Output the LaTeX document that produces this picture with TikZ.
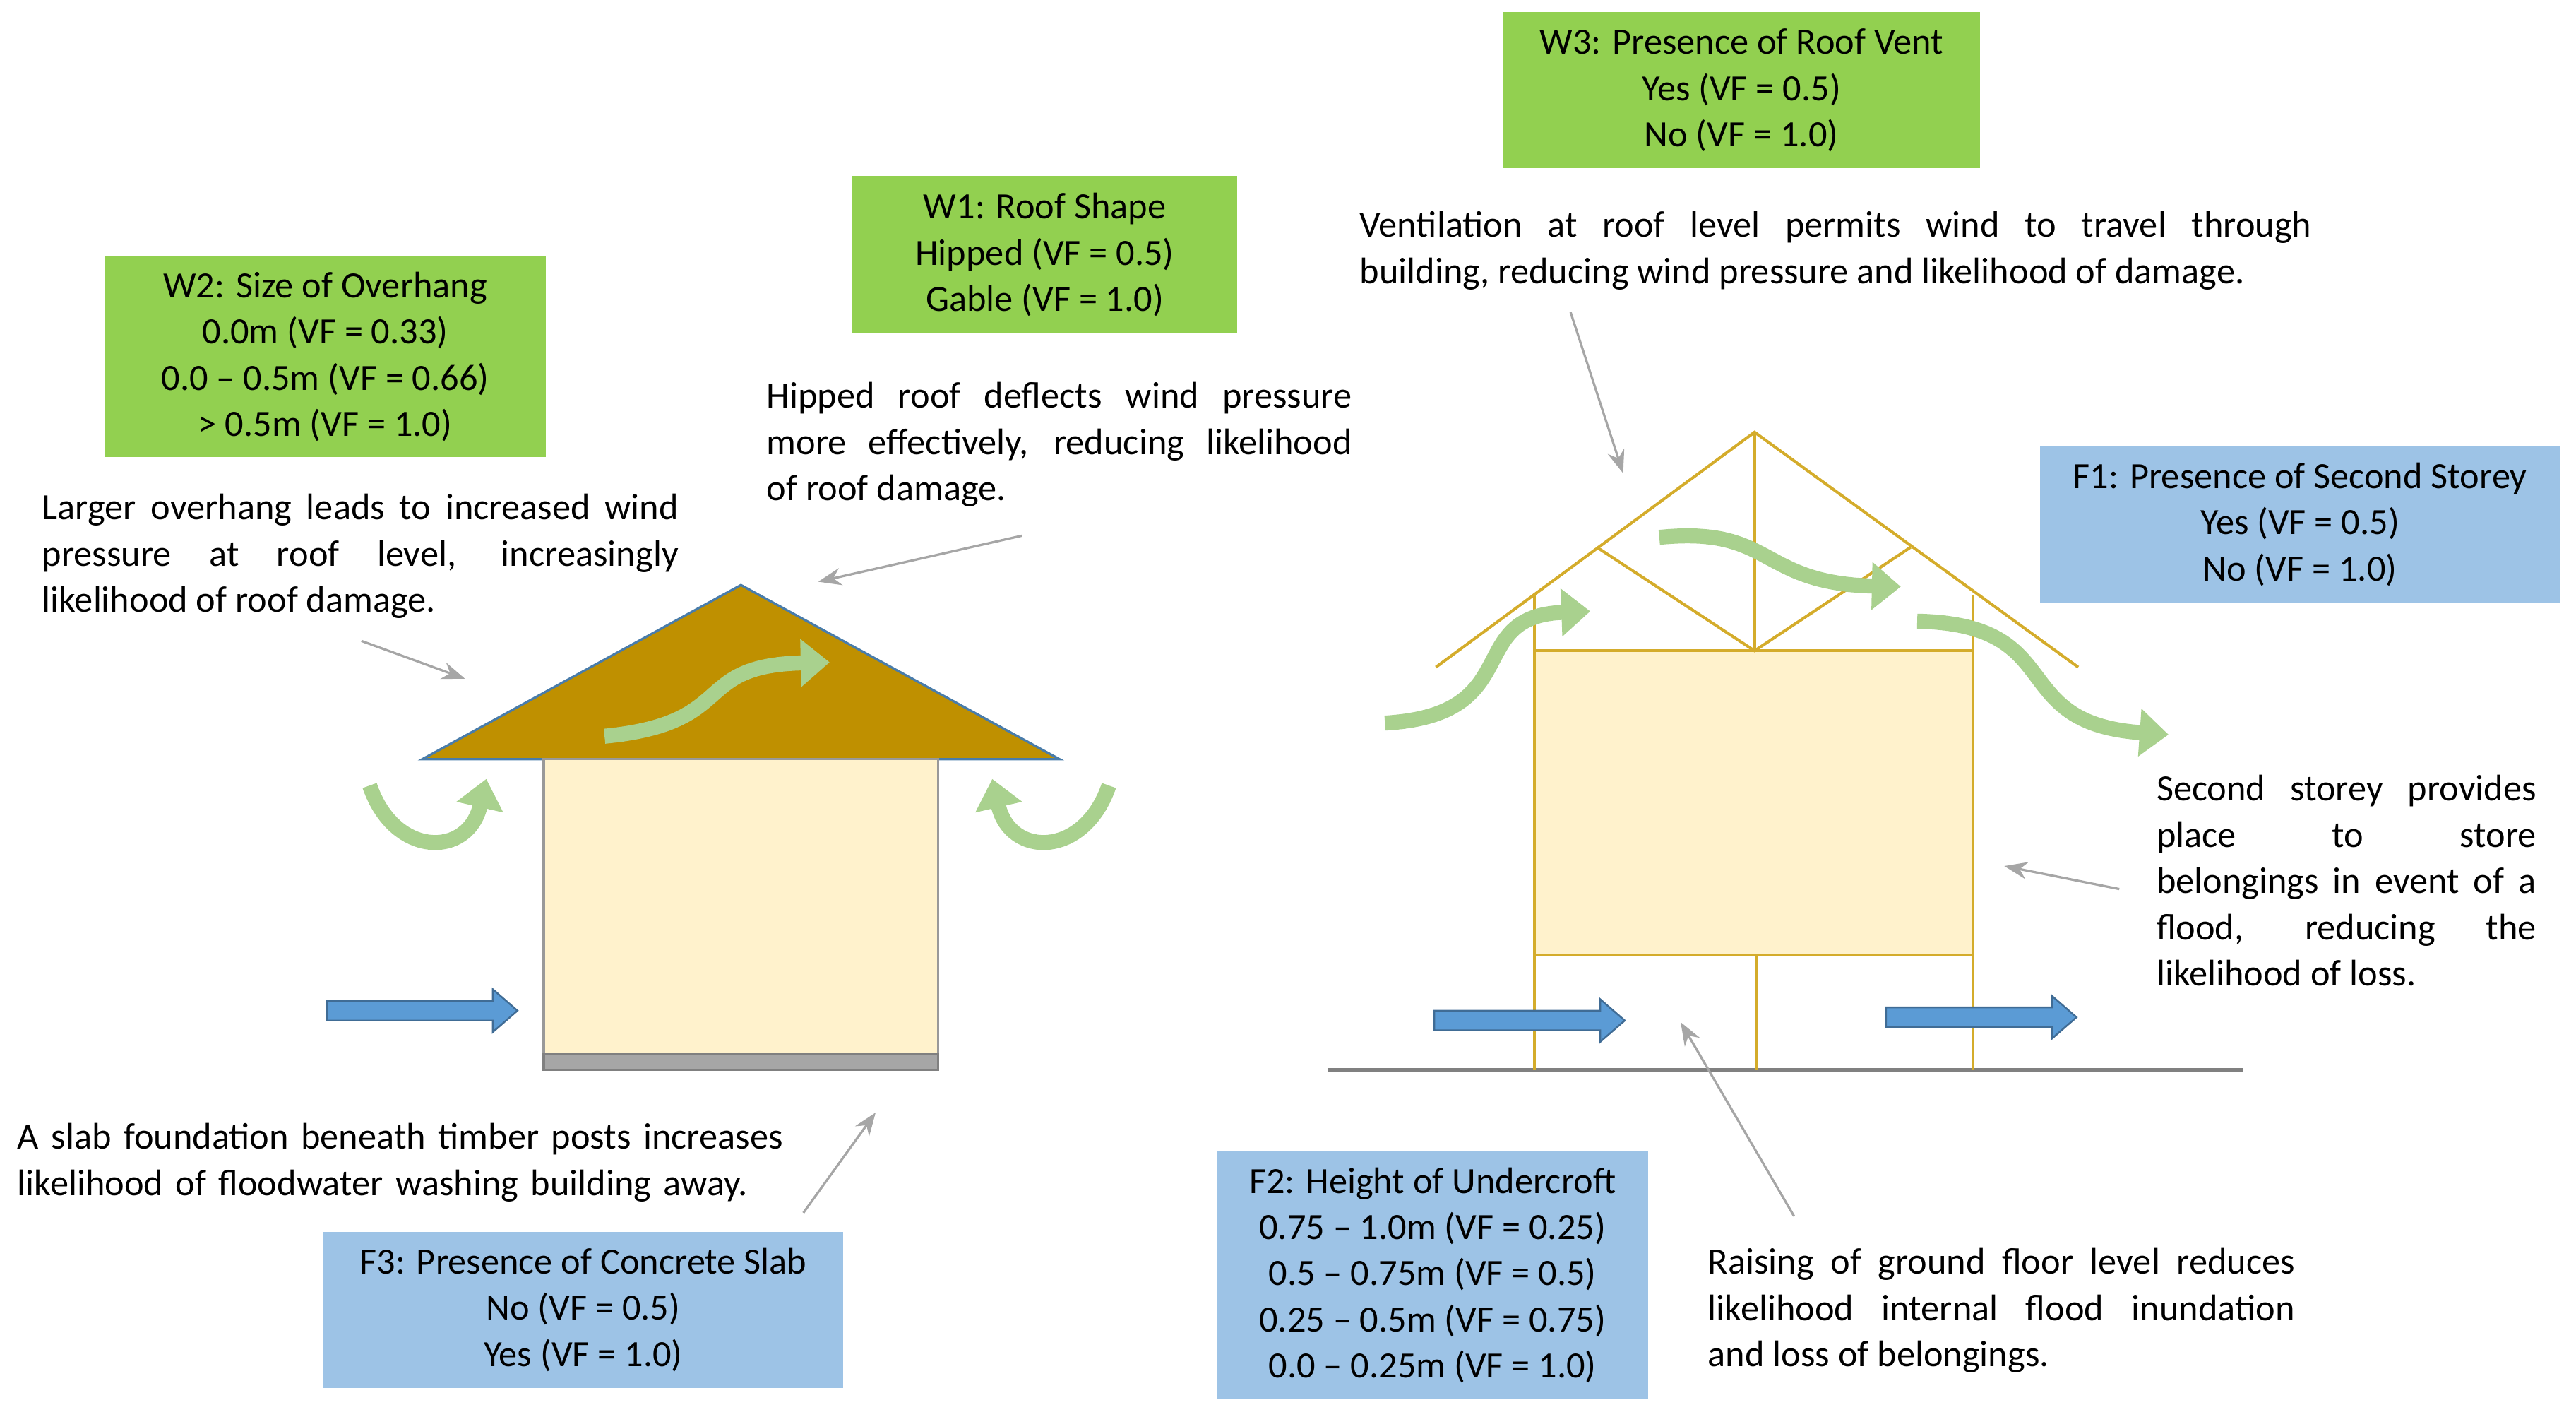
\documentclass[tikz,border=0pt]{standalone}
\usepackage{fontspec}
\setmainfont{Carlito}
\usetikzlibrary{arrows.meta}
\definecolor{gbox}{HTML}{92D050}
\definecolor{bbox}{HTML}{9DC3E6}
\definecolor{roof}{HTML}{BF9000}
\definecolor{wall}{HTML}{FFF2CC}
\definecolor{lg}{HTML}{A9D18E}
\definecolor{ba}{HTML}{5B9BD5}
\definecolor{gold}{HTML}{D4AC2B}
\hyphenpenalty=10000 \exhyphenpenalty=10000 \hbadness=10000 \hfuzz=20pt
\tikzset{
 box/.style={inner sep=0,align=center,font=\fontsize{6.4}{8}\selectfont},
 gb/.style={box,fill=gbox},
 bb/.style={box,fill=bbox},
 txt/.style={inner sep=0,anchor=north west,align=justify,font=\fontsize{6.4}{8}\selectfont},
 ptr/.style={draw=gray!70,line width=0.4pt,-{Stealth[length=4pt]}},
 flow/.style={draw=lg,line width=2.6pt,-{Triangle[length=5pt,width=8pt]}},
 frame/.style={draw=gold,line width=0.5pt},
 blk/.style={fill=ba,draw=ba!70!black,line width=0.3pt}
}
\newcommand{\blockarrow}[3]{% x1 x2 y
 \draw[blk] (#1,#3-6) -- (#2-15,#3-6) -- (#2-15,#3-13) -- (#2,#3) -- (#2-15,#3+13) -- (#2-15,#3+6) -- (#1,#3+6) -- cycle;}
\begin{document}
\begin{tikzpicture}[x=0.01cm,y=-0.01cm]
\useasboundingbox (0,0) rectangle (1568,862);
% boxes
\node[gb,minimum width=2.68cm,minimum height=1.22cm] (w2) at (198,217) {W2: Size of Overhang\\0.0m (VF = 0.33)\\0.0 -- 0.5m (VF = 0.66)\\> 0.5m (VF = 1.0)};
\node[gb,minimum width=2.34cm,minimum height=0.96cm] (w1) at (636,155) {W1: Roof Shape\\Hipped (VF = 0.5)\\Gable (VF = 1.0)};
\node[gb,minimum width=2.90cm,minimum height=0.95cm] (w3) at (1060,55) {W3: Presence of Roof Vent\\Yes (VF = 0.5)\\No (VF = 1.0)};
\node[bb,minimum width=3.16cm,minimum height=0.95cm] (f1) at (1400,319) {F1: Presence of Second Storey\\Yes (VF = 0.5)\\No (VF = 1.0)};
\node[bb,minimum width=2.62cm,minimum height=1.51cm] (f2) at (872,776) {F2: Height of Undercroft\\0.75 -- 1.0m (VF = 0.25)\\0.5 -- 0.75m (VF = 0.5)\\0.25 -- 0.5m (VF = 0.75)\\0.0 -- 0.25m (VF = 1.0)};
\node[bb,minimum width=3.16cm,minimum height=0.95cm] (f3) at (355,797) {F3: Presence of Concrete Slab\\No (VF = 0.5)\\Yes (VF = 1.0)};
% texts
\node[txt,text width=3.87cm] (t1) at (25,300) {Larger overhang leads to increased wind\linebreak pressure at roof level, increasingly\linebreak likelihood of roof damage.};
\node[txt,text width=3.56cm] (t2) at (466,232) {Hipped roof deflects wind pressure\linebreak more effectively, reducing likelihood\linebreak of roof damage.};
\node[txt,text width=5.79cm] (t3) at (827,128) {Ventilation at roof level permits wind to travel through\linebreak building, reducing wind pressure and likelihood of damage.};
\node[txt,text width=2.31cm] (t4) at (1312,471) {Second storey provides\linebreak place to store\linebreak belongings in event of a\linebreak flood, reducing the\linebreak likelihood of loss.};
\node[txt,text width=5.2cm,align=left] (t5) at (10,683) {A slab foundation beneath timber posts increases\\likelihood of floodwater washing building away.};
\node[txt,text width=3.57cm] (t6) at (1039,759) {Raising of ground floor level reduces\linebreak likelihood internal flood inundation\linebreak and loss of belongings.};
% left house
\fill[roof,draw=ba!80!black,line width=0.4pt] (257,462) -- (451,356) -- (645,462) -- cycle;
\draw[fill=wall,draw=gray!80,line width=0.4pt] (331,462) rectangle (571,641);
\draw[fill=gray!70,draw=gray] (331,641) rectangle (571,651);
\draw[flow] (368,448) .. controls (450,440) and (420,405) .. (505,403);
\draw[flow] (225,478) .. controls (240,522) and (285,522) .. (296,474);
\draw[flow] (675,478) .. controls (660,522) and (615,522) .. (604,474);
\blockarrow{199}{315}{615}
% right house
\draw[draw=gray,line width=0.5pt] (808,651) -- (1365,651);
\draw[frame,fill=wall] (934,396) rectangle (1201,581);
\draw[frame] (934,362) -- (934,651) (1201,362) -- (1201,651) (1069,581) -- (1069,651);
\draw[frame] (874,406) -- (1068,263) -- (1265,406);
\draw[frame] (972,333) -- (1068,396) -- (1163,333) (1068,263) -- (1068,396);
\draw[flow] (843,440) .. controls (930,435) and (890,375) .. (968,372);
\draw[flow] (1010,327) .. controls (1080,320) and (1070,355) .. (1157,357);
\draw[flow] (1167,378) .. controls (1260,380) and (1220,440) .. (1320,447);
\blockarrow{873}{989}{621}
\blockarrow{1148}{1264}{619}
% pointers
\coordinate (p1s) at (220,390); \coordinate (p1e) at (283,413);
\coordinate (p2s) at (622,326); \coordinate (p2e) at (498,354);
\coordinate (p3s) at (956,190); \coordinate (p3e) at (988,288);
\coordinate (p4s) at (1290,541); \coordinate (p4e) at (1220,527);
\coordinate (p5s) at (489,738); \coordinate (p5e) at (533,677);
\coordinate (p6s) at (1092,740); \coordinate (p6e) at (1023,622);
\draw[ptr] (p1s) -- (p1e);
\draw[ptr] (p2s) -- (p2e);
\draw[ptr] (p3s) -- (p3e);
\draw[ptr] (p4s) -- (p4e);
\draw[ptr] (p5s) -- (p5e);
\draw[ptr] (p6s) -- (p6e);
\end{tikzpicture}
\end{document}
